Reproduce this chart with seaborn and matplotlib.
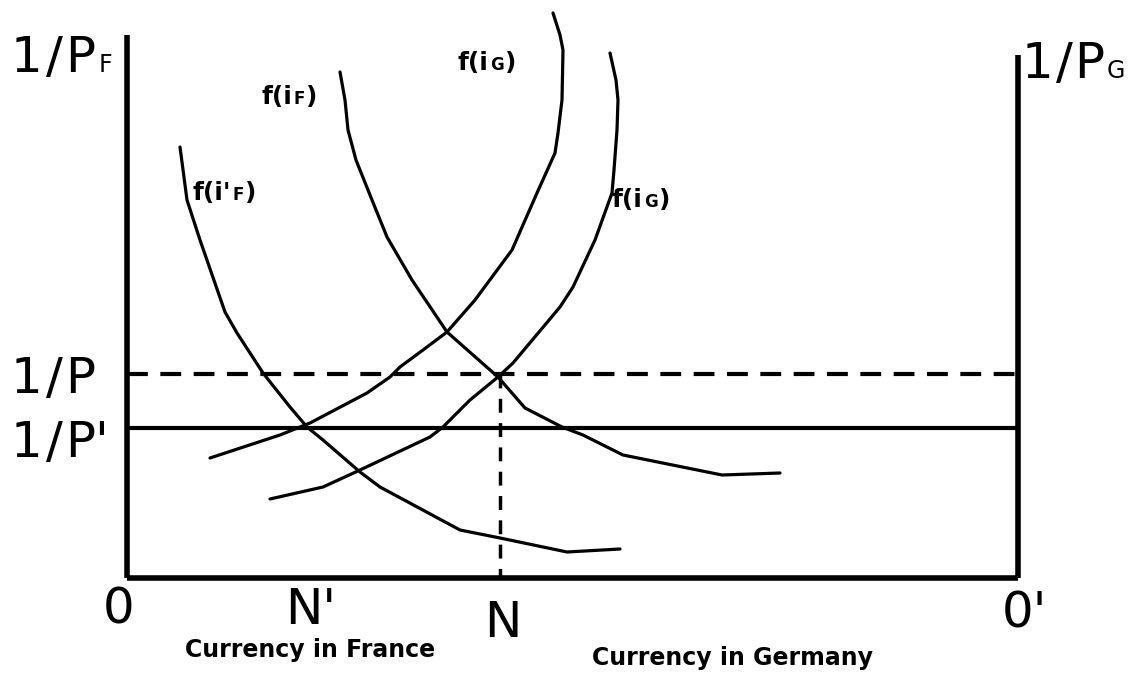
import matplotlib
matplotlib.use("Agg")
import matplotlib.pyplot as plt
import seaborn as sns
import pandas as pd

sns.set_theme(style="white")
plt.rcParams['font.family'] = ['DejaVu Sans']
plt.rcParams['text.color'] = 'black'

# Curve traces (horizontal = currency quantity, vertical = 1/P, image units)
fiF_prime_x = [180, 187, 200, 225, 237, 263, 290, 307, 323, 360, 380, 460, 500, 567, 620]
fiF_prime_y = [147, 200, 240, 312, 333, 373, 407, 427, 440, 472, 487, 530, 538, 552, 549]

fiF_x = [340, 345, 348, 356, 372, 387, 412, 447, 498, 525, 562, 583, 623, 722, 780]
fiF_y = [72, 100, 130, 160, 200, 237, 280, 332, 377, 408, 427, 435, 455, 475, 473]

fiG1_x = [210, 280, 310, 367, 390, 400, 423, 447, 475, 512, 537, 555, 558, 562, 563, 560, 553]
fiG1_y = [458, 435, 423, 393, 377, 367, 350, 332, 300, 250, 193, 153, 133, 100, 50, 35, 13]

fiG2_x = [270, 323, 360, 430, 443, 470, 498, 513, 560, 573, 595, 612, 614, 617, 618, 616, 610]
fiG2_y = [499, 487, 470, 437, 427, 400, 377, 363, 307, 287, 240, 193, 170, 130, 100, 80, 53]

# Reference levels
x_origin, x_origin2 = 127, 1018
y_base = 578
y_P, y_Pprime = 374, 428
x_N = 500

fig = plt.figure(figsize=(11.38, 6.77), dpi=100)
ax = fig.add_axes([0, 0, 1, 1])
ax.set_xlim(0, 1138)
ax.set_ylim(677, 0)
ax.axis("off")

curves = [(fiF_prime_x, fiF_prime_y), (fiF_x, fiF_y), (fiG1_x, fiG1_y), (fiG2_x, fiG2_y)]
for cx, cy in curves:
    df = pd.DataFrame({"x": cx, "y": cy})
    sns.lineplot(data=df, x="x", y="y", sort=False, estimator=None, color="black",
                 linewidth=2.3, ax=ax)

# axes frame
ax.plot([x_origin, x_origin], [35, y_base], color="black", lw=4, solid_capstyle="butt")
ax.plot([x_origin2, x_origin2], [55, y_base], color="black", lw=4, solid_capstyle="butt")
ax.plot([x_origin, x_origin2], [y_base, y_base], color="black", lw=4, solid_capstyle="butt")

# price lines
ax.plot([x_origin, x_origin2], [y_P, y_P], color="black", lw=3, ls=(0, (5, 3)))
ax.plot([x_origin, x_origin2], [y_Pprime, y_Pprime], color="black", lw=3)
ax.plot([x_N, x_N], [y_P, y_base], color="black", lw=2.5, ls=(0, (4, 3)))

renderer = fig.canvas.get_renderer()
inv = ax.transData.inverted()


def pieces(x, y, parts, weight="normal", gap=1):
    """Place consecutive text pieces [(text, size), ...] on a common baseline."""
    cur = x
    for s, size in parts:
        t = ax.text(cur, y, s, fontsize=size, fontweight=weight, ha="left", va="baseline",
                    color="black")
        bb = t.get_window_extent(renderer=renderer)
        cur = inv.transform((bb.x1, bb.y0))[0] + gap


big = 36
sub_big = 17
pieces(11, 72, [("1", big), ("/", big), ("P", big), ("F", sub_big)], gap=3)
pieces(1022, 78, [("1", big), ("/", big), ("P", big), ("G", sub_big)], gap=2)
pieces(11, 393, [("1", big), ("/", big), ("P", big)], gap=3)
pieces(11, 457, [("1", big), ("/", big), ("P'", big)], gap=3)
ax.text(119, 624, "0", fontsize=big, ha="center", va="baseline")
ax.text(311, 624, "N'", fontsize=big, ha="center", va="baseline")
ax.text(503, 637, "N", fontsize=big, ha="center", va="baseline")
ax.text(1024, 627, "0'", fontsize=big, ha="center", va="baseline")

small = 18
sub_small = 12
pieces(262, 104, [("f(i", small), ("F", sub_small), (")", small)], weight="bold")
pieces(458, 70, [("f(i", small), ("G", sub_small), (")", small)], weight="bold")
pieces(193, 200, [("f(i'", small), ("F", sub_small), (")", small)], weight="bold")
pieces(612, 207, [("f(i", small), ("G", sub_small), (")", small)], weight="bold")

ax.text(310, 657, "Currency in France", fontsize=17, fontweight="bold", ha="center",
        va="baseline")
ax.text(733, 665, "Currency in Germany", fontsize=17, fontweight="bold", ha="center",
        va="baseline")

fig.savefig("out.png", dpi=100, facecolor="white")
